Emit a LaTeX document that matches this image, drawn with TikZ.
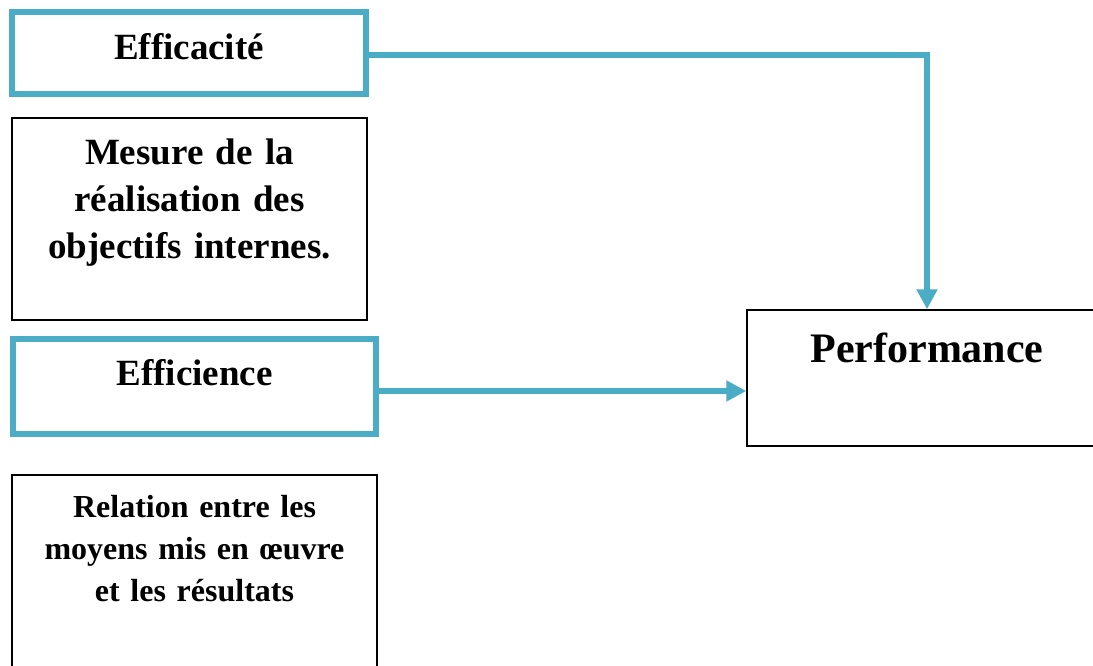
\documentclass[tikz,border=0pt]{standalone}
\usepackage{fontspec}
\setmainfont{Liberation Serif}
\usetikzlibrary{arrows.meta}
\definecolor{bleuacc}{HTML}{4BACC6}
\tikzset{
    % Define style for the blue boxes
    cadre/.style={
           rectangle,
           draw=bleuacc, line width=6pt,
           inner sep=0pt,
           font=\bfseries\fontsize{37}{46.5}\selectfont},
    % Define style for the black text boxes
    texte/.style={
           rectangle,
           draw=black, line width=1.5pt,
           inner sep=0pt,
           align=center,
           font=\bfseries\fontsize{37}{46.5}\selectfont},
    % Define arrow style
    fleche/.style={
           -{Triangle[length=20pt,width=20pt]},
           draw=bleuacc,
           line width=5.5pt}
}

\begin{document}
\begin{tikzpicture}[x=1pt,y=-1pt]
\useasboundingbox (0,0) rectangle (1093,666);
\clip (0,0) rectangle (1093,666);

% Left column: the two criteria and their definitions
\node[cadre, minimum width=354pt, minimum height=82pt,
      text height=14pt, text depth=0pt] (efficacite) at (189,53) {Efficacité};
\node[texte, text width=355pt, minimum height=202pt,
      text height=0pt, text depth=108pt] (mesure) at (189.5,219)
      {Mesure de la\\réalisation des\\objectifs internes.};
\node[cadre, minimum width=363pt, minimum height=95pt,
      text height=0pt, text depth=2pt] (efficience) at (194.5,386) {Efficience};
\node[texte, font=\bfseries\fontsize{32}{42}\selectfont,
      text width=365pt, minimum height=225pt,
      text height=0pt, text depth=141pt] (relation) at (194.5,587.5)
      {Relation entre les\\moyens mis en œuvre\\et les résultats};

% Right: the result
\node[texte, font=\bfseries\fontsize{42}{50}\selectfont,
      text width=360pt, minimum height=136pt,
      text height=0pt, text depth=32pt] (performance) at (927,378) {Performance};

% Now connect the nodes
\draw[fleche] ([yshift=-2pt]efficacite.east) -| (performance.north);
\draw[fleche] ([yshift=-5pt]efficience.east) -- ([yshift=-5pt]efficience.east -| performance.west);
\end{tikzpicture}
\end{document}
